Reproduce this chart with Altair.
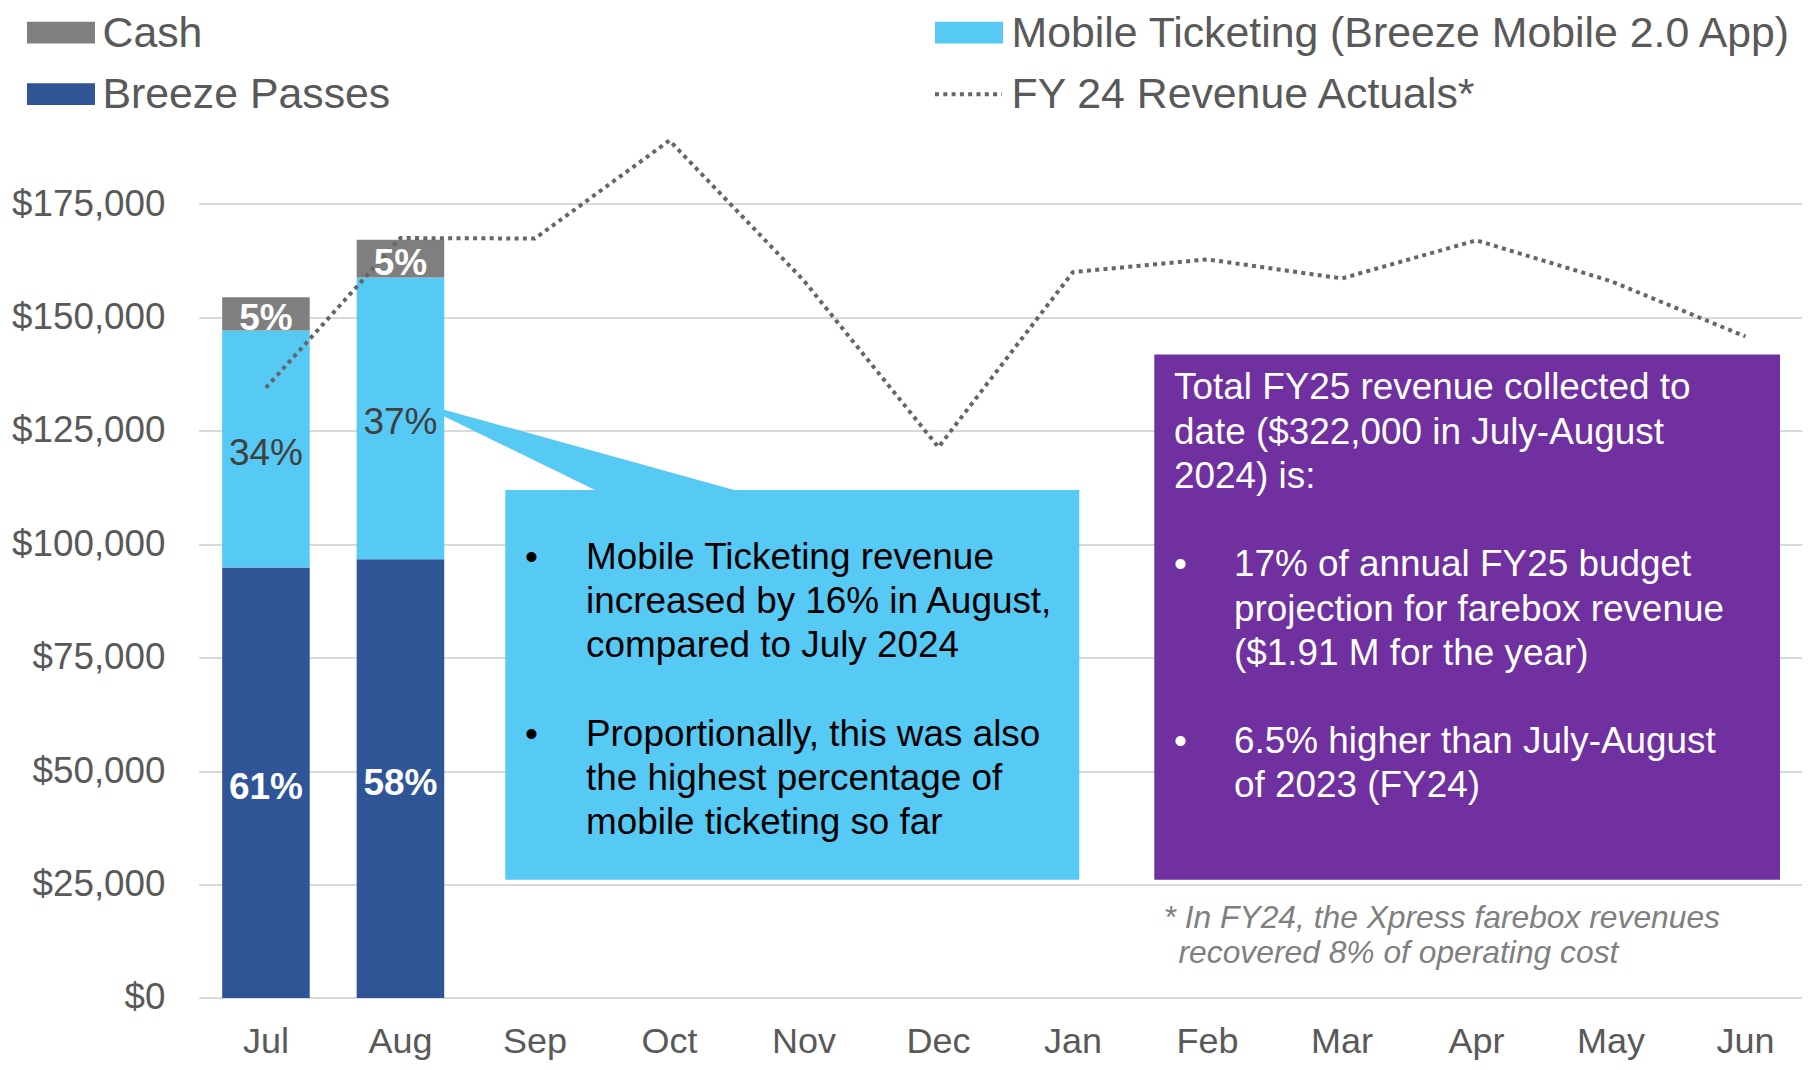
import altair as alt
import pandas as pd

# ---------------- data ----------------
months = ["Jul", "Aug", "Sep", "Oct", "Nov", "Dec", "Jan", "Feb", "Mar", "Apr", "May", "Jun"]
fy24_actuals = [134500, 167500, 167400, 189000, 158100, 121400, 160000, 162800, 158600, 167000, 158000, 145800]

bar_months = ["Jul", "Aug"]
breeze_passes = [94900, 96700]
mobile_ticketing = [52250, 62100]
cash = [7300, 8300]

series_names = ["Breeze Passes", "Mobile Ticketing (Breeze Mobile 2.0 App)", "Cash"]
series_values = [breeze_passes, mobile_ticketing, cash]
series_colors = ["#2F5597", "#56C9F4", "#7F7F7F"]

y_ticks = [0, 25000, 50000, 75000, 100000, 125000, 150000, 175000]

rows = []
for k, (name, vals) in enumerate(zip(series_names, series_values)):
    for i, m in enumerate(bar_months):
        rows.append({"month": m, "series": name, "order": k, "value": vals[i]})
bars_df = pd.DataFrame(rows)
line_df = pd.DataFrame({"month": months, "fy24": fy24_actuals})
one = pd.DataFrame({"_": [0]})

# ---------------- layout helpers ----------------
FONT = "Liberation Sans, Arial, sans-serif"
PLOT_W = 1603
PLOT_H = 907.4
K = PLOT_H / 915.2
LH = 44.6 * K


def X(p):
    return p - 198.7


def Y(p):
    return (p - 90.5) * K


x_scale = alt.Scale(domain=months, paddingInner=0.349, paddingOuter=0.1745, range=[0, 1614])
x_axis = alt.Axis(title=None, labelFontSize=36, labelColor="#595959", labelPadding=27,
                  ticks=False, domain=False, labelAngle=0, labelFont=FONT, grid=False)
y_scale = alt.Scale(domain=[0, 200000], nice=False)
y_axis = alt.Axis(title=None, values=y_ticks, format="$,.0f", labelFontSize=36.8,
                  labelColor="#595959", labelPadding=33.7, ticks=False, domain=False,
                  gridColor="#D9D9D9", gridWidth=2, labelFont=FONT)

X_ENC = alt.X("month:N", scale=x_scale, axis=x_axis)

stacked = alt.Chart(bars_df).transform_stack(
    stack="value", groupby=["month"], as_=["v0", "v1"],
    sort=[alt.SortField("order", order="ascending")]
)

bars = stacked.mark_bar().encode(
    x=X_ENC,
    y=alt.Y("v0:Q", scale=y_scale, axis=y_axis),
    y2="v1:Q",
    color=alt.Color("series:N", scale=alt.Scale(domain=series_names, range=series_colors), legend=None),
)

labels_base = stacked.transform_joinaggregate(
    total="sum(value)", groupby=["month"]
).transform_calculate(
    mid="(datum.v0 + datum.v1) / 2",
    pct="format(datum.value / datum.total, '.0%')",
)

white_labels = labels_base.transform_filter("datum.order != 1").mark_text(
    fontSize=37, fontWeight="bold", color="white", font=FONT, dy=5
).encode(x=X_ENC, y=alt.Y("mid:Q", scale=y_scale, axis=y_axis), text="pct:N")

mobile_labels = labels_base.transform_filter("datum.order == 1").mark_text(
    fontSize=37, color="#404040", font=FONT, dy=5
).encode(x=X_ENC, y=alt.Y("mid:Q", scale=y_scale, axis=y_axis), text="pct:N")

line = alt.Chart(line_df).mark_line(
    color="#666666", strokeWidth=4, strokeDash=[4, 4.3], strokeCap="butt"
).encode(x=X_ENC, y=alt.Y("fy24:Q", scale=y_scale, axis=y_axis))


def rect(x1, x2, y1, y2, color):
    return alt.Chart(one).mark_rect(color=color).encode(
        x=alt.value(X(x1)), x2=alt.value(X(x2)), y=alt.value(Y(y1)), y2=alt.value(Y(y2))
    )


def text(txt, xp, yp, size, color, **kw):
    return alt.Chart(one).mark_text(
        text=txt, align="left", baseline="alphabetic", fontSize=size, color=color,
        font=FONT, lineBreak="\n", lineHeight=LH, **kw
    ).encode(x=alt.value(X(xp)), y=alt.value(Y(yp)))


# callout wedge (custom symbol path)
pts = [(X(444), Y(412.3)), (X(744), Y(496)), (X(600.7), Y(496)), (X(444), Y(419))]
xs = [p[0] for p in pts]
ys = [p[1] for p in pts]
cx = (min(xs) + max(xs)) / 2
cy = (min(ys) + max(ys)) / 2
half = max(max(xs) - min(xs), max(ys) - min(ys)) / 2
path = "M" + "L".join(f"{(px - cx) / half:.4f},{(py - cy) / half:.4f}" for px, py in pts) + "Z"
wedge = alt.Chart(one).mark_point(
    shape=path, size=(2 * half) ** 2, filled=True, color="#56C9F4", opacity=1, strokeWidth=0
).encode(x=alt.value(cx), y=alt.value(cy))

blue_box = rect(505.3, 1079.3, 493.3, 886.5, "#56C9F4")
purple_box = rect(1154.3, 1780, 356.7, 886.5, "#7030A0")

BODY = 36.9
b1 = 572.7
b2 = b1 + 4 * 44.6
blue_layers = [
    text("•", 525, b1, BODY, "#000000"),
    text("•", 525, b2, BODY, "#000000"),
    text("Mobile Ticketing revenue\nincreased by 16% in August,\ncompared to July 2024",
         586, b1, BODY, "#000000"),
    text("Proportionally, this was also\nthe highest percentage of\nmobile ticketing so far",
         586, b2, BODY, "#000000"),
]

p0 = 402
p1 = p0 + 4 * 44.6
p2 = p1 + 4 * 44.6
purple_layers = [
    text("Total FY25 revenue collected to\ndate ($322,000 in July-August\n2024) is:",
         1174, p0, BODY, "#FFFFFF"),
    text("•", 1174, p1, BODY, "#FFFFFF"),
    text("•", 1174, p2, BODY, "#FFFFFF"),
    text("17% of annual FY25 budget\nprojection for farebox revenue\n($1.91 M for the year)",
         1234, p1, BODY, "#FFFFFF"),
    text("6.5% higher than July-August\nof 2023 (FY24)", 1234, p2, BODY, "#FFFFFF"),
]

foot1 = text("* In FY24, the Xpress farebox revenues", 1163.5, 934.6, 31.8, "#7F7F7F", fontStyle="italic")
foot2 = text("recovered 8% of operating cost", 1178.5, 970, 31.8, "#7F7F7F", fontStyle="italic")

# legend (first row sits a few px lower so its text box stays inside the page)
LEG = 42.8
ROW1 = 47.0
ROW2 = 108.5
leg_layers = [
    rect(27, 95, ROW1 - 26, ROW1 - 4, "#7F7F7F"),
    rect(27, 95, 83, 105, "#2F5597"),
    rect(935, 1003, ROW1 - 26, ROW1 - 4, "#56C9F4"),
    alt.Chart(one).mark_rule(
        color="#666666", strokeWidth=4, strokeDash=[4, 4.3], strokeCap="butt"
    ).encode(x=alt.value(X(935)), x2=alt.value(X(1002)), y=alt.value(Y(94.3))),
    text("Cash", 102.5, ROW1, LEG, "#595959"),
    text("Breeze Passes", 102.5, ROW2, LEG, "#595959"),
    text("Mobile Ticketing (Breeze Mobile 2.0 App)", 1011.5, ROW1, LEG, "#595959"),
    text("FY 24 Revenue Actuals*", 1011.5, ROW2, LEG, "#595959"),
]

chart = alt.layer(
    bars, line, blue_box, wedge, purple_box, white_labels, mobile_labels,
    *blue_layers, *purple_layers, foot1, foot2, *leg_layers,
).properties(
    width=PLOT_W, height=PLOT_H,
    padding={"left": 190.7, "top": 82.6, "right": 0, "bottom": 64},
    autosize=alt.AutoSizeParams(type="none"),
    background="white",
).configure(font=FONT).configure_view(stroke=None)

chart.save("out.html", embed_options={"renderer": "svg", "actions": False})
